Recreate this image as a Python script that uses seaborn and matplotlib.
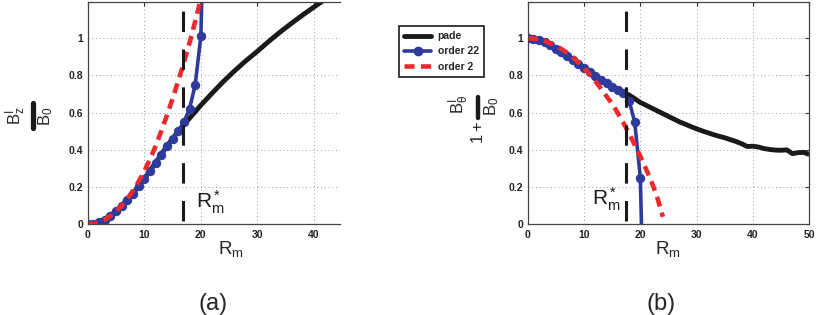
import numpy as np
import matplotlib
matplotlib.use("Agg")
import matplotlib.pyplot as plt
from matplotlib.lines import Line2D
import seaborn as sns

# ---- data ----
rm_int = list(range(0, 22))

# (a) B_z / B_0
bz_order22 = [0.0, 0.003, 0.011, 0.025, 0.045, 0.072, 0.10, 0.13, 0.165, 0.205,
              0.245, 0.285, 0.33, 0.375, 0.42, 0.46, 0.50, 0.55, 0.62, 0.75, 1.01, 2.2]
bz_order2_x = list(range(0, 21))
bz_order2 = [0.0, 0.003, 0.011, 0.025, 0.045, 0.07, 0.10, 0.137, 0.18, 0.23,
             0.285, 0.35, 0.42, 0.50, 0.585, 0.675, 0.77, 0.87, 0.975, 1.09, 1.21]
bz_pade_x = [0, 2, 4, 6, 8, 10, 12, 14, 16, 17, 18, 20, 22, 24, 26, 28, 30,
             32, 34, 36, 38, 40, 42, 44, 46]
bz_pade = [0.0, 0.011, 0.045, 0.10, 0.165, 0.245, 0.33, 0.42, 0.50, 0.535, 0.57,
           0.64, 0.705, 0.768, 0.826, 0.88, 0.93, 0.983, 1.033, 1.08, 1.125, 1.168,
           1.21, 1.25, 1.29]

# (b) 1 + B_theta / B_0
bt_order22 = [1.0, 0.998, 0.99, 0.978, 0.962, 0.945, 0.925, 0.905, 0.884, 0.862,
              0.84, 0.818, 0.797, 0.777, 0.757, 0.74, 0.723, 0.707, 0.665, 0.55, 0.25, -1.0]
bt_order2_x = list(range(0, 25))
bt_order2 = [1.0, 0.998, 0.994, 0.986, 0.974, 0.96, 0.942, 0.922, 0.898, 0.87,
             0.84, 0.806, 0.77, 0.73, 0.688, 0.648, 0.598, 0.545, 0.488, 0.428,
             0.365, 0.298, 0.228, 0.145, 0.04]
bt_pade_x = list(range(0, 51))
bt_pade = [1.0, 0.998, 0.99, 0.978, 0.962, 0.945, 0.925, 0.905, 0.884, 0.862,
           0.84, 0.818, 0.797, 0.777, 0.757, 0.74, 0.723, 0.707, 0.695, 0.675,
           0.655, 0.64, 0.625, 0.61, 0.595, 0.58, 0.565, 0.55, 0.538, 0.525,
           0.513, 0.502, 0.492, 0.482, 0.473, 0.465, 0.455, 0.445, 0.433, 0.418,
           0.42, 0.415, 0.407, 0.402, 0.399, 0.398, 0.40, 0.38, 0.385, 0.387, 0.375]

rstar = [16.9, 17.5]          # R_m^* marker line in (a) and (b)
rstar_span = [0.02, 1.147]

legend_labels = ["pade", "order 22", "order 2"]
yticks = [0, 0.2, 0.4, 0.6, 0.8, 1]
xticks = [0, 10, 20, 30, 40, 50]

# ---- style ----
sns.set_style("white")
plt.rcParams["font.family"] = ["Liberation Sans", "DejaVu Sans"]
plt.rcParams["mathtext.fontset"] = "custom"
plt.rcParams["mathtext.rm"] = "Liberation Sans"
plt.rcParams["mathtext.it"] = "Liberation Sans"

BLACK = "#1a1a1a"
BLUE = "#2e3a9c"
RED = "#ec2a2e"
W, H = 817, 315


def fx(px):
    return px / W


def fy(py):
    return 1 - py / H


fig = plt.figure(figsize=(8.17, 3.15), dpi=100)
ax1 = fig.add_axes([fx(87.7), fy(224.3), (340 - 87.7) / W, (224.3 - 2) / H])
ax2 = fig.add_axes([fx(527.7), fy(224.3), (809.3 - 527.7) / W, (224.3 - 2) / H])


def draw(ax, px, py, x22, y22, x2, y2, xs):
    sns.lineplot(x=px, y=py, ax=ax, color=BLACK, lw=3.5, label=legend_labels[0],
                 solid_capstyle="butt", legend=False)
    sns.lineplot(x=x22, y=y22, ax=ax, color=BLUE, lw=2.6, marker="o", ms=6,
                 mec=BLUE, label=legend_labels[1], legend=False)
    sns.lineplot(x=x2, y=y2, ax=ax, color=RED, lw=3.3, label=legend_labels[2],
                 legend=False)
    ax.lines[-1].set_dashes([2.2, 1.4])
    ax.plot([xs, xs], rstar_span, color=BLACK, lw=2.2, dashes=[6.7, 5.7])
    ax.set_ylim(0, 1.195)
    ax.set_yticks(yticks)
    ax.set_yticklabels(["0", "0.2", "0.4", "0.6", "0.8", "1"])
    ax.set_xticks(xticks)
    ax.set_xticklabels([str(t) for t in xticks])
    ax.grid(True, color="#777777", lw=0.6, linestyle=(0, (1, 3.5)))
    ax.tick_params(direction="in", length=3, width=0.8, labelsize=7.5, pad=3,
                   top=True, right=True, colors="#333333")
    ax.tick_params(axis="x", pad=4)
    for lab in ax.get_xticklabels() + ax.get_yticklabels():
        lab.set_fontweight("bold")
        lab.set_color("#222222")
    for s in ax.spines.values():
        s.set_color("#444444")
        s.set_linewidth(0.9)
    ax.set_xlabel("")
    ax.set_ylabel("")


draw(ax1, bz_pade_x, bz_pade, rm_int, bz_order22, bz_order2_x, bz_order2, rstar[0])
draw(ax2, bt_pade_x, bt_pade, rm_int, bt_order22, bt_order2_x, bt_order2, rstar[1])
ax1.set_xlim(0, 44.6)
ax1.spines["right"].set_visible(False)
ax1.tick_params(right=False)
ax2.set_xlim(0, 50)

# R_m^* annotations
ax1.text(19.1, 0.088, r"$\mathrm{R_m^*}$", fontsize=15, color=BLACK)
ax2.text(11.5, 0.10, r"$\mathrm{R_m^*}$", fontsize=15, color=BLACK)

# x labels
fig.text(fx(231), fy(254), r"$\mathrm{R_m}$", fontsize=13.5, ha="center", va="baseline")
fig.text(fx(668), fy(254), r"$\mathrm{R_m}$", fontsize=13.5, ha="center", va="baseline")

# panel tags
fig.text(fx(213), fy(310), "(a)", fontsize=17, ha="center", va="baseline")
fig.text(fx(661), fy(310), "(b)", fontsize=17, ha="center", va="baseline")

# y label (a): B^I_z over B_0, rotated
fig.text(fx(16), fy(116), r"$\mathrm{B^I_z}$", fontsize=12, rotation=90,
         ha="center", va="center")
fig.add_artist(Line2D([fx(32.5), fx(32.5)], [fy(103), fy(128)], color=BLACK, lw=3.8))
fig.text(fx(46), fy(116), r"$\mathrm{B_0}$", fontsize=12, rotation=90,
         ha="center", va="center")

# y label (b): 1 + B^I_theta over B_0, rotated
fig.text(fx(478), fy(133), r"$\mathrm{1+}$", fontsize=12, rotation=90,
         ha="center", va="center")
fig.add_artist(Line2D([fx(478), fx(478)], [fy(97), fy(118)], color=BLACK, lw=3.2))
fig.text(fx(459), fy(104), r"$\mathrm{B^I_\theta}$", fontsize=12, rotation=90,
         ha="center", va="center")
fig.text(fx(492), fy(106), r"$\mathrm{B_0}$", fontsize=12, rotation=90,
         ha="center", va="center")

# legend
handles = [
    Line2D([], [], color=BLACK, lw=3.5),
    Line2D([], [], color=BLUE, lw=2.6, marker="o", ms=6),
    Line2D([], [], color=RED, lw=3.3, dashes=[2.2, 1.4]),
]
leg = fig.legend(handles, legend_labels, loc="upper left",
                 bbox_to_anchor=(fx(399), fy(26)), borderaxespad=0,
                 fancybox=False, framealpha=1, edgecolor=BLACK,
                 prop={"weight": "bold", "size": 7.5}, handlelength=2.6,
                 labelspacing=0.5, borderpad=0.5, handletextpad=0.6)
leg.get_frame().set_linewidth(1.2)

fig.savefig("out.png", dpi=100)
